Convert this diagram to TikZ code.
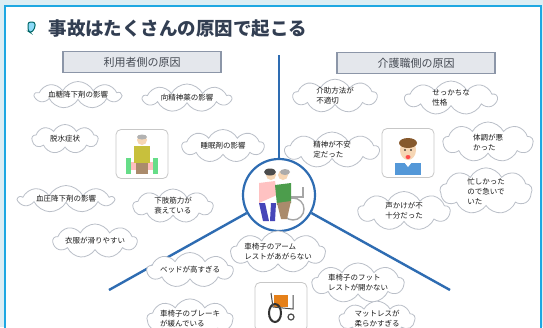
\documentclass[tikz,border=0pt]{standalone}
\usepackage{fontspec}
\setmainfont{Noto Sans CJK JP}
\usetikzlibrary{shapes.symbols,positioning}
\definecolor{linkblue}{RGB}{46,108,178}
\definecolor{framecyan}{RGB}{30,168,226}
\definecolor{bgblue}{RGB}{220,238,244}
\definecolor{tagfill}{RGB}{228,231,236}
\definecolor{tagdraw}{RGB}{140,150,168}
\definecolor{puffgray}{RGB}{186,191,200}
\definecolor{titlegray}{RGB}{50,62,82}
\definecolor{skin}{RGB}{246,214,180}

\begin{document}
\begin{tikzpicture}[x=1pt,y=-1pt,
  bubble/.style={cloud, cloud puffs=9, cloud puff arc=125, cloud ignores aspect, draw=puffgray, fill=white,
    line width=0.8pt, inner sep=0pt, font=\fontsize{7.5}{10}\selectfont, align=left, text=black!90},
  tag/.style={rectangle, draw=tagdraw, fill=tagfill, line width=1.2pt, minimum width=158pt,
    minimum height=21pt, font=\fontsize{11}{12}\selectfont, text=tagdraw!50!black},
  photo/.style={rectangle, rounded corners=5pt, draw=black!22, fill=white, line width=0.8pt,
    minimum width=52pt, minimum height=49pt},
  branch/.style={linkblue, line width=2.4pt}]

\clip (0,0) rectangle (543,327);
\fill[bgblue] (0,0) rectangle (543,327);
\draw[framecyan, line width=1.6pt, fill=white] (5,6) rectangle (541,340);

% title
\draw[teal!80!black, fill=cyan!45, line width=1pt, rounded corners=2.5pt]
  (28,22) -- (35,22) -- (35,28) -- (31,33) -- (28,31) -- cycle;
\node[anchor=west, font=\fontsize{18.5}{20}\selectfont\bfseries, text=titlegray] (title) at (45,29) {事故はたくさんの原因で起こる};

% the three branches
\coordinate (topend) at (279,55);
\coordinate (leftend) at (109,290);
\coordinate (rightend) at (450,290);
\node[circle, draw=linkblue, line width=2.2pt, minimum size=72pt, fill=white] (hub) at (279,195) {};
\draw[branch] (hub) -- (topend);
\draw[branch] (hub) -- (leftend);
\draw[branch] (hub) -- (rightend);

\node[tag] (user) at (142,62) {利用者側の原因};
\node[tag] (staff) at (416,63) {介護職側の原因};

% user side
\node[bubble, minimum width=86pt, minimum height=27pt] (u1) at (78,95) {血糖降下剤の影響};
\node[bubble, minimum width=88pt, minimum height=28pt] (u2) at (187,98) {向精神薬の影響};
\node[bubble, minimum width=66pt, minimum height=29pt] (u3) at (65,139) {脱水症状};
\node[bubble, minimum width=82pt, minimum height=33pt] (u4) at (223,146) {睡眠剤の影響};
\node[bubble, minimum width=95pt, minimum height=27pt] (u5) at (66,199) {血圧降下剤の影響};
\node[bubble, minimum width=80pt, minimum height=34pt] (u6) at (173,206) {下肢筋力が\\衰えている};
\node[bubble, minimum width=84pt, minimum height=34pt] (u7) at (95,241) {衣服が滑りやすい};
\node[photo] (elder) at (142,154) {};

% environment side
\node[bubble, minimum width=86pt, minimum height=35pt] (e1) at (190,270) {ベッドが高すぎる};
\node[bubble, minimum width=86pt, minimum height=37pt] (e2) at (190,319) {車椅子のブレーキ\\が緩んでいる};
\node[bubble, minimum width=92pt, minimum height=36pt] (e3) at (278,252) {車椅子のアーム\\レストがあがらない};
\node[bubble, minimum width=92pt, minimum height=32pt] (e4) at (358,283) {車椅子のフット\\レストが開かない};
\node[bubble, minimum width=76pt, minimum height=35pt] (e5) at (377,319) {マットレスが\\柔らかすぎる};
\node[photo] (chair) at (281,307) {};

% staff side
\node[bubble, minimum width=84pt, minimum height=33pt] (s1) at (335,96) {介助方法が\\不適切};
\node[bubble, minimum width=92pt, minimum height=34pt] (s2) at (451,98) {せっかちな\\性格};
\node[bubble, minimum width=94pt, minimum height=36pt] (s3) at (332,150) {精神が不安\\定だった};
\node[bubble, minimum width=90pt, minimum height=40pt] (s4) at (488,142) {体調が悪\\かった};
\node[bubble, minimum width=92pt, minimum height=42pt] (s5) at (486,191) {忙しかった\\ので急いで\\いた};
\node[bubble, minimum width=92pt, minimum height=39pt] (s6) at (404,211) {声かけが不\\十分だった};
\node[photo] (carer) at (408,153) {};

% old man in a wheelchair
\begin{scope}[shift={(elder.center)}]
  \fill[teal!45!green!60] (-16,4) rectangle (-11,20);
  \fill[teal!45!green!60] (11,4) rectangle (16,20);
  \fill[red!25] (-11,8) rectangle (11,16);
  \fill[brown!70!black!70] (-6,8) rectangle (6,20);
  \fill[olive!70!yellow!70] (-8,-8) rectangle (8,9);
  \fill[skin] (0,-14) circle (5);
  \fill[gray!60] (0,-17) ellipse (5 and 2.5);
\end{scope}

% staff member
\begin{scope}[shift={(carer.center)}]
  \fill[cyan!60!blue!70] (-13,10) rectangle (13,22);
  \fill[white] (-4,9) -- (0,14) -- (4,9) -- cycle;
  \fill[skin] (0,-3) ellipse (8 and 10);
  \fill[brown!70!black] (0,-10) ellipse (9 and 5);
  \fill[red!70] (0,4) ellipse (2.5 and 2);
  \fill[black] (-3,-3) circle (0.9) (3,-3) circle (0.9);
\end{scope}

% carer helping a resident into a wheelchair
\begin{scope}[shift={(hub.center)}]
  \draw[gray!70, line width=1.4pt] (14,14) circle (11);
  \draw[gray!70, line width=1.2pt] (2,2) -- (24,2) -- (24,-8);
  \fill[blue!45!gray] (-20,8) -- (-14,8) -- (-10,26) -- (-16,26) -- cycle;
  \fill[blue!45!gray] (-8,8) -- (-3,8) -- (-4,26) -- (-9,26) -- cycle;
  \fill[pink!80!red!60] (-20,-12) -- (-4,-14) -- (-2,0) -- (-20,8) -- cycle;
  \fill[green!45!black!70] (-4,-10) -- (12,-12) -- (12,8) -- (-2,10) -- cycle;
  \fill[brown!70!black!70] (-2,8) -- (12,6) -- (8,24) -- (2,24) -- cycle;
  \fill[skin] (4,-20) circle (5);
  \fill[gray!65] (6,-23) ellipse (5 and 3);
  \fill[skin] (-8,-20) circle (5);
  \fill[black!70] (-9,-23) ellipse (6 and 3.5);
\end{scope}

% wheelchair
\begin{scope}[shift={(chair.center)}]
  \fill[orange!60!brown] (-7,-12) rectangle (7,0);
  \draw[black!80, line width=2pt] (-6,6) ellipse (6 and 9);
  \draw[black!70, line width=1.2pt] (10,10) circle (3);
  \draw[black!70, line width=1pt] (-10,-14) -- (-8,0) -- (12,2) -- (12,-12);
\end{scope}
\end{tikzpicture}
\end{document}
